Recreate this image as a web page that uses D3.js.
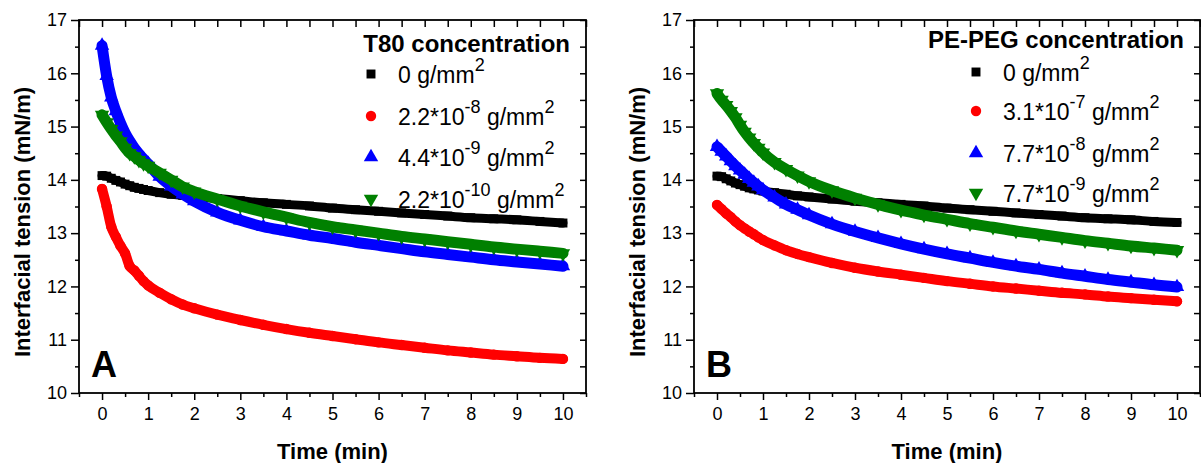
<!DOCTYPE html>
<html>
<head>
<meta charset="utf-8">
<script src="https://cdn.jsdelivr.net/npm/d3@7"></script>
<style>
  body { margin: 0; background: #fff; }
  svg { display: block; font-family: "Liberation Sans", Arial, sans-serif; }
</style>
</head>
<body>
<svg width="1201" height="463"></svg>
<script>
// sampling times (min) shared by every series
const times = [0, 0.1, 0.2, 0.3, 0.4, 0.5, 0.6, 0.7, 0.8, 0.9, 1, 1.25, 1.5, 1.75, 2, 2.5, 3, 3.5, 4, 4.5, 5, 5.5, 6, 6.5, 7, 7.5, 8, 8.5, 9, 9.5, 10];

// panel A : T80
const t80Zero = [14.08, 14.07, 14.03, 13.99, 13.96, 13.92, 13.89, 13.86, 13.84, 13.82, 13.80, 13.76, 13.73, 13.71, 13.69, 13.65, 13.61, 13.57, 13.54, 13.51, 13.47, 13.44, 13.41, 13.38, 13.35, 13.32, 13.29, 13.27, 13.25, 13.22, 13.19];
const t80Red = [13.83, 13.5, 13.12, 12.93, 12.76, 12.62, 12.38, 12.3, 12.2, 12.1, 12.02, 11.88, 11.76, 11.66, 11.59, 11.47, 11.37, 11.28, 11.2, 11.13, 11.07, 11.01, 10.95, 10.9, 10.85, 10.8, 10.76, 10.72, 10.69, 10.66, 10.64];
const t80Blue = [16.52, 15.95, 15.55, 15.29, 15.07, 14.88, 14.73, 14.6, 14.49, 14.39, 14.3, 14.06, 13.88, 13.73, 13.6, 13.39, 13.24, 13.12, 13.04, 12.96, 12.9, 12.83, 12.77, 12.71, 12.65, 12.6, 12.55, 12.5, 12.46, 12.42, 12.38];
const t80Green = [15.22, 15.08, 14.95, 14.83, 14.72, 14.6, 14.5, 14.44, 14.37, 14.31, 14.26, 14.13, 14.0, 13.87, 13.78, 13.64, 13.51, 13.4, 13.3, 13.2, 13.12, 13.06, 13.0, 12.94, 12.89, 12.84, 12.79, 12.74, 12.7, 12.66, 12.62];

// panel B : PE-PEG
const pegZero = [14.07, 14.06, 14.02, 13.98, 13.94, 13.91, 13.88, 13.85, 13.83, 13.81, 13.79, 13.76, 13.73, 13.7, 13.68, 13.64, 13.6, 13.57, 13.54, 13.51, 13.47, 13.44, 13.41, 13.38, 13.35, 13.32, 13.29, 13.27, 13.25, 13.22, 13.2];
const pegRed = [13.53, 13.45, 13.37, 13.3, 13.22, 13.15, 13.09, 13.03, 12.98, 12.92, 12.87, 12.77, 12.68, 12.61, 12.55, 12.44, 12.35, 12.28, 12.22, 12.16, 12.1, 12.05, 12.0, 11.96, 11.92, 11.88, 11.85, 11.81, 11.78, 11.75, 11.72];
const pegBlue = [14.62, 14.53, 14.44, 14.35, 14.26, 14.18, 14.1, 14.02, 13.95, 13.88, 13.81, 13.67, 13.54, 13.44, 13.34, 13.17, 13.03, 12.91, 12.8, 12.7, 12.61, 12.53, 12.45, 12.38, 12.32, 12.25, 12.19, 12.13, 12.08, 12.03, 11.99];
const pegGreen = [15.62, 15.5, 15.4, 15.29, 15.17, 15.03, 14.9, 14.79, 14.69, 14.6, 14.51, 14.33, 14.2, 14.08, 13.97, 13.8, 13.66, 13.54, 13.43, 13.34, 13.26, 13.18, 13.11, 13.04, 12.98, 12.92, 12.86, 12.81, 12.76, 12.72, 12.68];

const t80Labels = ["0 g/mm^2", "2.2*10^-8 g/mm^2", "4.4*10^-9 g/mm^2", "2.2*10^-10 g/mm^2"];
const pegLabels = ["0 g/mm^2", "3.1*10^-7 g/mm^2", "7.7*10^-8 g/mm^2", "7.7*10^-9 g/mm^2"];

const xTicks = [0, 1, 2, 3, 4, 5, 6, 7, 8, 9, 10];
const yTicks = [10, 11, 12, 13, 14, 15, 16, 17];

const colors = ["#000000", "#ff0000", "#0000ff", "#008000"];
const shapes = ["square", "circle", "up", "down"];
const bandWidth = [9, 10, 11, 11];

const markerPath = (shape) => {
	if (shape === "square") return d3.symbol(d3.symbolSquare, 80)();
	if (shape === "circle") return d3.symbol(d3.symbolCircle, 85)();
	return d3.symbol(d3.symbolTriangle, 90)();
};

// split "2.2*10^-8 g/mm^2" into normal / superscript pieces
const labelParts = (s) => {
	const out = [];
	s.split(/(\^[-0-9]+)/).forEach((p) => {
		if (!p) return;
		if (p[0] === "^") out.push({ t: p.slice(1), sup: true });
		else out.push({ t: p, sup: false });
	});
	return out;
};

const svg = d3.select("svg");

const panel = (selection, props) => {
	const { x0, x1, title, titleY, letter, labels, series, legendX, legendY, yTitleX } = props;
	const top = 20, bottom = 393;

	const x = d3.scaleLinear().domain([-0.5, 10.5]).range([x0, x1]);
	const y = d3.scaleLinear().domain([10, 17]).range([bottom, top]);
	const minorX = d3.range(-0.5, 10.6, 0.5).filter((d) => !Number.isInteger(d));
	const minorY = d3.range(10.5, 17, 1);
	const intFmt = d3.format("d");

	const axisStyle = (g) => {
		g.select(".domain").remove();
		g.selectAll("line").attr("stroke", "#000").attr("stroke-width", 1.5);
		g.selectAll("text").attr("fill", "#000").attr("font-size", 18);
	};

	// curves: thick band then markers
	const line = d3.line().x((d) => x(d[0])).y((d) => y(d[1])).curve(d3.curveMonotoneX);
	const plot = selection.append("g");
	series.forEach((vals, i) => {
		const pts = times.map((t, k) => [t, vals[k]]);
		plot.append("path")
			.attr("d", line(pts))
			.attr("fill", "none")
			.attr("stroke", colors[i])
			.attr("stroke-width", bandWidth[i])
			.attr("stroke-linecap", "round")
			.attr("stroke-linejoin", "round");
		plot.selectAll(null)
			.data(pts)
			.enter()
			.append("path")
			.attr("d", markerPath(shapes[i]))
			.attr("transform", (d) => `translate(${x(d[0])},${y(d[1])})` + (shapes[i] === "down" ? " rotate(180)" : ""))
			.attr("fill", colors[i]);
	});

	// bottom axis
	selection.append("g")
		.attr("transform", `translate(0,${bottom})`)
		.call(d3.axisBottom(x).tickValues(xTicks).tickSize(7).tickPadding(7).tickFormat(intFmt))
		.call(axisStyle);
	selection.append("g")
		.attr("transform", `translate(0,${bottom})`)
		.call(d3.axisBottom(x).tickValues(minorX).tickSize(4).tickFormat(""))
		.call(axisStyle);
	// top axis (inward)
	selection.append("g")
		.attr("transform", `translate(0,${top})`)
		.call(d3.axisTop(x).tickValues(xTicks.concat(minorX)).tickSize(-7).tickFormat(""))
		.call(axisStyle);
	// left axis
	selection.append("g")
		.attr("transform", `translate(${x0},0)`)
		.call(d3.axisLeft(y).tickValues(yTicks).tickSize(8).tickPadding(4).tickFormat(intFmt))
		.call(axisStyle);
	selection.append("g")
		.attr("transform", `translate(${x0},0)`)
		.call(d3.axisLeft(y).tickValues(minorY).tickSize(4).tickFormat(""))
		.call(axisStyle);
	// right axis (inward)
	selection.append("g")
		.attr("transform", `translate(${x1},0)`)
		.call(d3.axisRight(y).tickValues(yTicks.concat(minorY)).tickSize(-6).tickFormat(""))
		.call(axisStyle);

	selection.append("rect")
		.attr("x", x0).attr("y", top)
		.attr("width", x1 - x0).attr("height", bottom - top)
		.attr("fill", "none").attr("stroke", "#000").attr("stroke-width", 1.8);

	// axis titles
	selection.append("text")
		.attr("x", x(5)).attr("y", 459)
		.attr("text-anchor", "middle")
		.attr("font-size", 22).attr("font-weight", "bold")
		.text("Time (min)");
	selection.append("text")
		.attr("transform", `translate(${yTitleX},222) rotate(-90)`)
		.attr("text-anchor", "middle")
		.attr("font-size", 22).attr("font-weight", "bold")
		.text("Interfacial tension (mN/m)");

	// panel letter
	selection.append("text")
		.attr("x", x0 + 12).attr("y", 377)
		.attr("font-size", 36).attr("font-weight", "bold")
		.text(letter);

	// legend
	selection.append("text")
		.attr("x", x1 - 16).attr("y", titleY)
		.attr("text-anchor", "end")
		.attr("font-size", 24).attr("font-weight", "bold")
		.text(title);

	const rows = selection.selectAll(".leg")
		.data(labels)
		.enter()
		.append("g")
		.attr("class", "leg")
		.attr("transform", (d, i) => `translate(${legendX},${legendY[i]})`);
	rows.append("path")
		.attr("d", (d, i) => markerPath(shapes[i]))
		.attr("transform", (d, i) => (shapes[i] === "down" ? "rotate(180)" : null))
		.attr("fill", (d, i) => colors[i]);
	const txt = rows.append("text")
		.attr("x", 27).attr("y", 9)
		.attr("font-size", 23);
	txt.each(function (d) {
		const t = d3.select(this);
		let raised = false;
		labelParts(d).forEach((p) => {
			const span = t.append("tspan").text(p.t);
			if (p.sup && !raised) { span.attr("dy", -12).attr("font-size", 18); raised = true; }
			else if (p.sup) { span.attr("font-size", 18); }
			else if (raised) { span.attr("dy", 12); raised = false; }
		});
	});
};

svg.append("g").call(panel, {
	x0: 79, x1: 586,
	title: "T80 concentration", titleY: 52, letter: "A",
	labels: t80Labels,
	series: [t80Zero, t80Red, t80Blue, t80Green],
	legendX: 371, legendY: [74, 116, 157, 199],
	yTitleX: 30,
});

svg.append("g").call(panel, {
	x0: 694, x1: 1200,
	title: "PE-PEG concentration", titleY: 48, letter: "B",
	labels: pegLabels,
	series: [pegZero, pegRed, pegBlue, pegGreen],
	legendX: 976, legendY: [72, 111, 153, 193],
	yTitleX: 645,
});
</script>
</body>
</html>
